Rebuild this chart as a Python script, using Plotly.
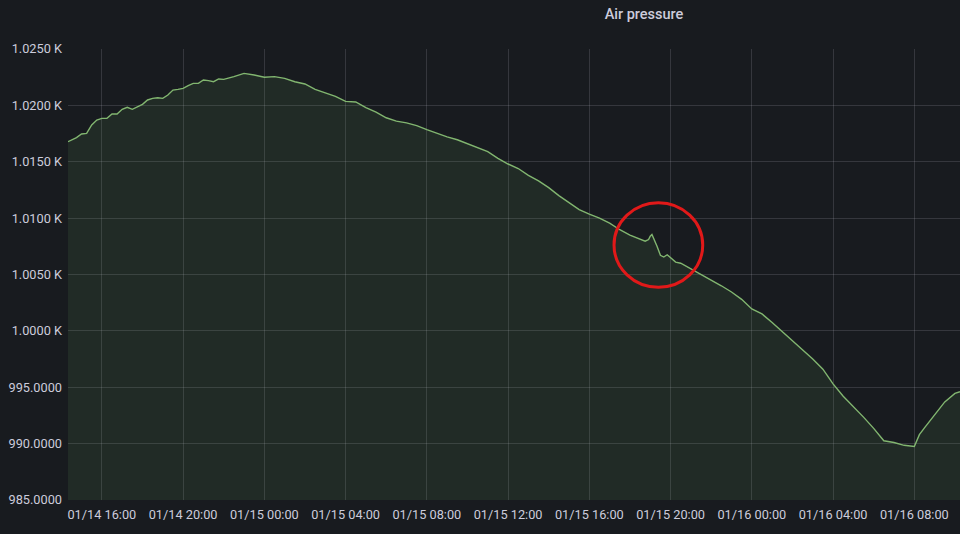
import plotly.graph_objects as go

# ---- data ----
times = [
    "2024-01-14 14:20", "2024-01-14 14:30", "2024-01-14 14:45", "2024-01-14 15:00",
    "2024-01-14 15:15", "2024-01-14 15:30", "2024-01-14 15:45", "2024-01-14 16:00",
    "2024-01-14 16:15", "2024-01-14 16:30", "2024-01-14 16:45", "2024-01-14 17:00",
    "2024-01-14 17:15", "2024-01-14 17:30", "2024-01-14 17:45", "2024-01-14 18:00",
    "2024-01-14 18:15", "2024-01-14 18:30", "2024-01-14 18:45", "2024-01-14 19:00",
    "2024-01-14 19:15", "2024-01-14 19:30", "2024-01-14 19:45", "2024-01-14 20:00",
    "2024-01-14 20:15", "2024-01-14 20:30", "2024-01-14 20:45", "2024-01-14 21:00",
    "2024-01-14 21:15", "2024-01-14 21:30", "2024-01-14 21:45", "2024-01-14 22:00",
    "2024-01-14 22:30", "2024-01-14 23:00", "2024-01-14 23:30",
    "2024-01-15 00:00", "2024-01-15 00:30", "2024-01-15 01:00", "2024-01-15 01:30",
    "2024-01-15 02:00", "2024-01-15 02:30", "2024-01-15 03:00", "2024-01-15 03:30",
    "2024-01-15 04:00", "2024-01-15 04:30", "2024-01-15 05:00", "2024-01-15 05:30",
    "2024-01-15 06:00", "2024-01-15 06:30", "2024-01-15 07:00", "2024-01-15 07:30",
    "2024-01-15 08:00", "2024-01-15 08:30", "2024-01-15 09:00", "2024-01-15 09:30",
    "2024-01-15 10:00", "2024-01-15 10:30", "2024-01-15 11:00", "2024-01-15 11:30",
    "2024-01-15 12:00", "2024-01-15 12:30", "2024-01-15 13:00", "2024-01-15 13:30",
    "2024-01-15 14:00", "2024-01-15 14:30", "2024-01-15 15:00", "2024-01-15 15:30",
    "2024-01-15 16:00", "2024-01-15 16:30", "2024-01-15 17:00", "2024-01-15 17:30",
    "2024-01-15 18:00", "2024-01-15 18:30", "2024-01-15 18:45", "2024-01-15 18:55",
    "2024-01-15 19:00", "2024-01-15 19:05", "2024-01-15 19:10", "2024-01-15 19:20",
    "2024-01-15 19:30", "2024-01-15 19:40", "2024-01-15 19:50", "2024-01-15 20:00",
    "2024-01-15 20:15", "2024-01-15 20:30", "2024-01-15 21:00", "2024-01-15 21:30",
    "2024-01-15 22:00", "2024-01-15 22:30", "2024-01-15 23:00", "2024-01-15 23:30",
    "2024-01-16 00:00", "2024-01-16 00:30", "2024-01-16 01:00", "2024-01-16 01:30",
    "2024-01-16 02:00", "2024-01-16 02:30", "2024-01-16 03:00", "2024-01-16 03:30",
    "2024-01-16 04:00", "2024-01-16 04:30", "2024-01-16 05:00", "2024-01-16 05:30",
    "2024-01-16 06:00", "2024-01-16 06:30", "2024-01-16 07:00", "2024-01-16 07:30",
    "2024-01-16 08:00", "2024-01-16 08:15", "2024-01-16 08:30", "2024-01-16 09:00",
    "2024-01-16 09:30", "2024-01-16 10:00", "2024-01-16 10:15",
]
pressure = [
    1016.78, 1016.93, 1017.14, 1017.46,
    1017.52, 1018.26, 1018.7, 1018.85,
    1018.85, 1019.23, 1019.23, 1019.65,
    1019.83, 1019.65, 1019.88, 1020.09,
    1020.48, 1020.62, 1020.68, 1020.62,
    1020.92, 1021.36, 1021.42, 1021.51,
    1021.75, 1021.95, 1021.95, 1022.25,
    1022.19, 1022.1, 1022.34, 1022.31,
    1022.55, 1022.84, 1022.69,
    1022.49, 1022.55, 1022.4, 1022.1,
    1021.9, 1021.42, 1021.12, 1020.8,
    1020.35, 1020.3, 1019.8, 1019.4,
    1018.9, 1018.6, 1018.45, 1018.2,
    1017.85, 1017.5, 1017.2, 1016.95,
    1016.6, 1016.2, 1015.9, 1015.3,
    1014.8, 1014.4, 1013.8, 1013.3,
    1012.7, 1012.0, 1011.4, 1010.75,
    1010.35, 1010.0, 1009.55, 1008.97,
    1008.5, 1008.1, 1007.95, 1008.1,
    1008.4, 1008.55, 1008.25, 1007.5,
    1006.7, 1006.55, 1006.75, 1006.5,
    1006.1, 1006.0, 1005.5, 1005.05,
    1004.5, 1004.0, 1003.45, 1002.8,
    1001.95, 1001.5, 1000.75, 999.95,
    999.15, 998.35, 997.5, 996.6,
    995.3, 994.2, 993.3, 992.35,
    991.35, 990.25, 990.1, 989.85,
    989.75, 990.8, 991.4, 992.5,
    993.7, 994.45, 994.6,
]

y_tickvals = [985, 990, 995, 1000, 1005, 1010, 1015, 1020, 1025]
y_ticktext = ["985.0000", "990.0000", "995.0000", "1.0000 K", "1.0050 K",
              "1.0100 K", "1.0150 K", "1.0200 K", "1.0250 K"]

x_range = ["2024-01-14 14:20", "2024-01-16 10:15"]
first_xtick = "2024-01-14 16:00"

title_text = "Air pressure"

# highlight circle (annotation around the dip)
circle_x = ["2024-01-15 17:13", "2024-01-15 21:35"]
circle_y = [1003.87, 1011.37]

BG = "#181b1f"
TEXT = "rgb(204,204,220)"
GRID = "rgba(204,204,220,0.16)"
LINE = "rgb(130,182,112)"
FILL = "rgba(115,191,105,0.10)"
FONT = "Roboto, Inter, sans-serif"

fig = go.Figure()
fig.add_trace(go.Scatter(
    x=times, y=pressure, mode="lines",
    line=dict(color=LINE, width=1.4),
    fill="tozeroy", fillcolor=FILL,
    hoverinfo="skip", showlegend=False,
))

fig.add_shape(
    type="circle", xref="x", yref="y",
    x0=circle_x[0], x1=circle_x[1], y0=circle_y[0], y1=circle_y[1],
    line=dict(color="rgb(225,25,25)", width=3),
)

fig.update_layout(
    width=960, height=534,
    paper_bgcolor=BG, plot_bgcolor=BG,
    margin=dict(l=68, r=0, t=49, b=34),
    font=dict(family=FONT, size=12.75, color=TEXT),
    title=dict(text=title_text, x=644 / 960, xanchor="center",
               y=1 - 14 / 534, yanchor="middle",
               font=dict(size=14.5, color=TEXT, family=FONT, weight=500)),
    showlegend=False,
)

fig.update_xaxes(
    type="date", range=x_range,
    tick0=first_xtick, dtick=4 * 3600 * 1000,
    tickformat="%m/%d %H:%M",
    showgrid=True, gridcolor=GRID, gridwidth=1,
    zeroline=False, showline=False,
    ticks="", ticklabelstandoff=5,
    tickfont=dict(size=12.75, color=TEXT, family=FONT),
)
fig.update_yaxes(
    range=[985, 1025],
    tickvals=y_tickvals, ticktext=y_ticktext,
    showgrid=True, gridcolor=GRID, gridwidth=1,
    zeroline=False, showline=False,
    ticks="", ticklabelstandoff=5,
    tickfont=dict(size=12.75, color=TEXT, family=FONT),
)

fig.write_html(
    "out.html",
    config={"displayModeBar": False},
    post_script="document.body.style.margin='0';document.body.style.background='" + BG + "';",
)
